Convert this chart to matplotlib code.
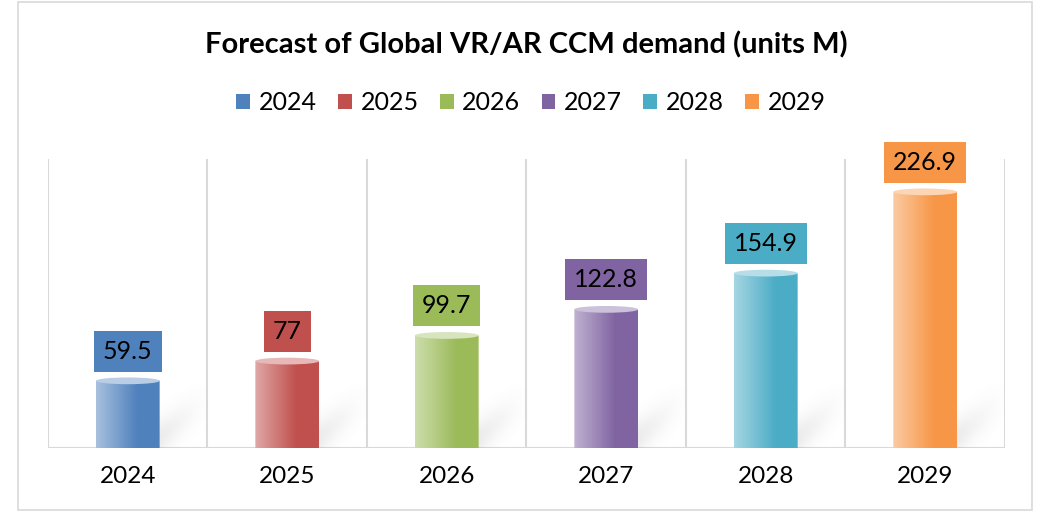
import numpy as np
import matplotlib
matplotlib.use("Agg")
import matplotlib.pyplot as plt
from matplotlib.patches import Rectangle, Ellipse, PathPatch, Patch
from matplotlib.path import Path
from matplotlib.colors import to_rgb

# data
years = ["2024", "2025", "2026", "2027", "2028", "2029"]
demand = [59.5, 77, 99.7, 122.8, 154.9, 226.9]
colors = ["#4F81BD", "#C0504D", "#9BBB59", "#8064A2", "#4BACC6", "#F79646"]

plt.rcParams["font.family"] = ["Lato", "DejaVu Sans"]

fig = plt.figure(figsize=(10.39, 5.16), dpi=100)
ax = fig.add_axes([48 / 1039, 1 - 448 / 516, 957 / 1039, 289 / 516])

ymax = 256
ax.set_xlim(-0.5, 5.5)
ax.set_ylim(0, ymax)

bw = 0.4
eh = 6.0  # ellipse height in data units


def lighten(c, f):
    r = np.array(to_rgb(c))
    return r + (1 - r) * f


for i, (v, c) in enumerate(zip(demand, colors)):
    x0, x1 = i - bw / 2, i + bw / 2
    # soft shadow behind the bar
    t = np.linspace(0, 1, 80)
    sh = np.zeros((80, 80, 4))
    sh[..., :3] = 0.5
    xx, yy = np.meshgrid(t, t)
    sh[..., 3] = 0.2 * np.exp(-((yy - xx * 0.8) ** 2) / 0.08) * (1 - xx) ** 1.2
    ax.imshow(sh, extent=[x1 - 0.08, x1 + 0.32, 0, 55], origin="lower",
              aspect="auto", zorder=1, interpolation="bilinear")
    # body gradient
    grad = np.zeros((2, 100, 3))
    lt = lighten(c, 0.5)
    dk = np.array(to_rgb(c))
    s = np.clip(np.linspace(0, 1, 100) / 0.65, 0, 1)
    for k in range(3):
        grad[:, :, k] = lt[k] + (dk[k] - lt[k]) * s
    im = ax.imshow(grad, extent=[x0, x1, -eh / 2, v], origin="lower",
                   aspect="auto", zorder=2, interpolation="bilinear")
    th = np.linspace(np.pi, 2 * np.pi, 40)
    bottom = [(i + bw / 2 * np.cos(a), eh / 2 * np.sin(a) * 0.6) for a in th]
    verts = [(x0, v)] + bottom + [(x1, v), (x0, v)]
    clip = PathPatch(Path(verts), transform=ax.transData, fc="none", ec="none")
    ax.add_patch(clip)
    im.set_clip_path(clip)
    # top cap
    cap = lighten(c, 0.6)
    ax.add_patch(Ellipse((i, v), bw, eh, fc=cap, ec="none", zorder=3))
    # data label box
    bh = 41 / 289 * ymax
    gap = 9 / 289 * ymax
    ax.text(i, v + gap + bh / 2, f"{v:g}", ha="center", va="center",
            fontsize=18, color="black", zorder=5, clip_on=False,
            bbox=dict(boxstyle="square,pad=0.36", fc=c, ec="none"))

# vertical gridlines between categories
for g in np.arange(-0.5, 6, 1):
    ax.axvline(g, color="#d9d9d9", lw=1.5, zorder=0)
ax.axhline(0, color="#d9d9d9", lw=1.5, zorder=0)

for sp in ax.spines.values():
    sp.set_visible(False)
ax.set_yticks([])
ax.set_xticks(range(len(years)))
ax.set_xticklabels(years, fontsize=17.5)
ax.tick_params(axis="x", length=0, pad=13)

fig.text(0.507, 1 - 45 / 516, "Forecast of Global VR/AR CCM demand (units M)",
         ha="center", va="center", fontsize=21, fontweight="bold")

handles = [Patch(fc=c, ec="none") for c in colors]
fig.legend(handles, years, loc="center", bbox_to_anchor=(0.511, 1 - 103 / 516),
           ncol=6, frameon=False, fontsize=18, handlelength=0.55, handleheight=0.55,
           handletextpad=0.35, columnspacing=0.85)

fig.add_artist(Rectangle((18 / 1039, 1 - 510 / 516), 1014 / 1039, 508 / 516,
                         transform=fig.transFigure, fc="none", ec="#d9d9d9", lw=1.2))

fig.savefig("out.png", dpi=100)
